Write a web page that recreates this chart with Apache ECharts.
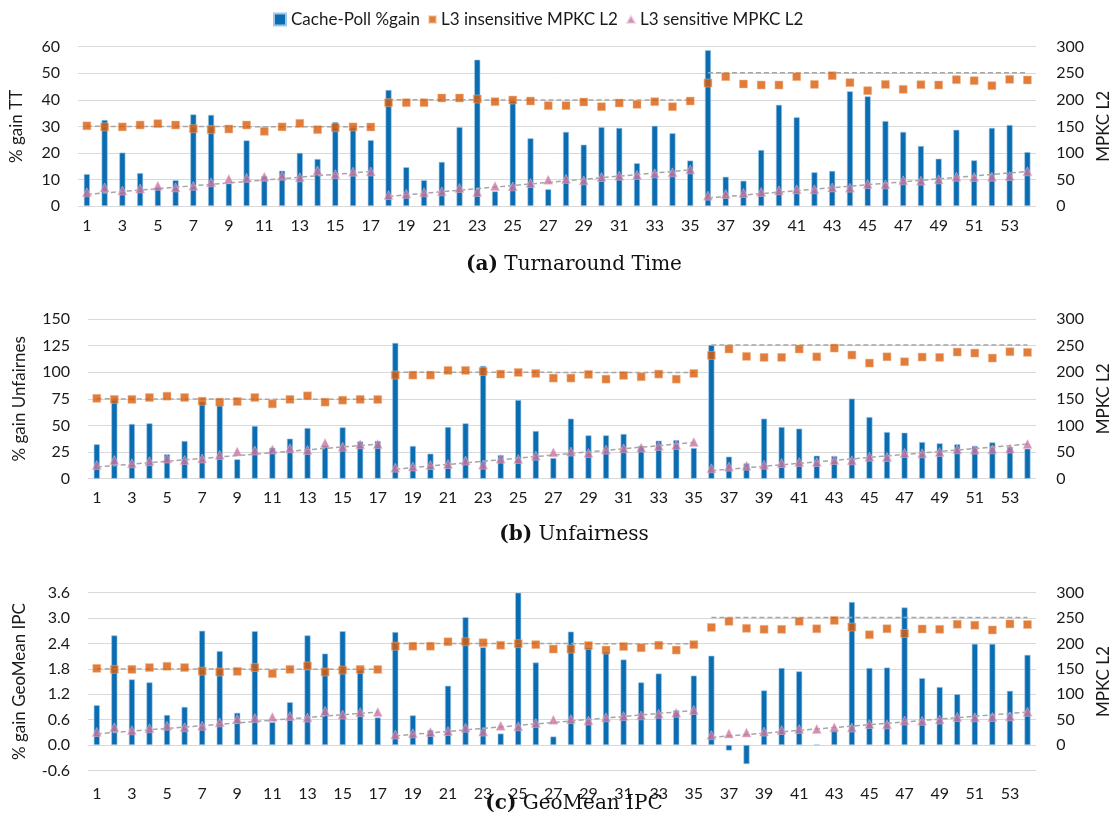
<!DOCTYPE html>
<html>
<head>
<meta charset="utf-8">
<script src="https://cdn.jsdelivr.net/npm/echarts@6/dist/echarts.min.js"></script>
<style>
html, body { margin: 0; padding: 0; background: #fff; }
#chart { width: 1120px; height: 821px; }
</style>
</head>
<body>
<div id="chart"></div>
<script>
// benchmark ids 1..54
const cats = []
for (let i = 1; i <= 54; i++) cats.push(String(i))

// Cache-Poll %gain, one array per panel
const gainTT = [12, 32.4, 20.1, 12.4, 7, 9.7, 34.5, 34.3, 8.5, 24.7, 11.3, 13.3, 20, 17.7, 31.6, 29.5, 24.8,
    43.7, 14.6, 9.7, 16.6, 29.7, 55.1, 5.5, 39.6, 25.5, 6.3, 27.9, 23.1, 29.7, 29.4, 16.1, 30.2, 27.4, 17.1,
    58.7, 11, 9.5, 21.1, 38.1, 33.4, 12.7, 13.2, 43.2, 41.3, 32, 27.9, 22.6, 17.8, 28.7, 17.2, 29.4, 30.5, 20.3]
const gainUnf = [32.3, 74, 51.4, 52, 22.9, 35.4, 72.3, 68.9, 18.2, 49.5, 29.1, 37.6, 47.6, 31, 48.2, 35, 35.4,
    127.5, 30.7, 23.5, 48.5, 52, 105.9, 22.2, 73.9, 44.8, 19.4, 56.4, 40.7, 40.7, 42, 30.7, 35.7, 36.3, 28.8,
    125.6, 20.7, 14.4, 56.4, 48.5, 47, 21.6, 21.3, 75.2, 57.9, 43.8, 43.2, 34.4, 33.2, 32.3, 30.7, 34.1, 30, 28.2]
const gainIPC = [0.94, 2.59, 1.55, 1.48, 0.71, 0.9, 2.7, 2.22, 0.76, 2.69, 0.54, 1.01, 2.59, 2.16, 2.69, 1.77, 0.65,
    2.67, 0.7, 0.35, 1.4, 3.02, 2.31, 0.27, 3.6, 1.95, 0.2, 2.68, 2.3, 2.2, 2.02, 1.48, 1.69, 0.82, 1.64,
    2.11, -0.13, -0.45, 1.29, 1.82, 1.74, 0.01, 0.35, 3.38, 1.82, 1.83, 3.25, 1.58, 1.37, 1.2, 2.39, 2.39, 1.28, 2.13]

// MPKC L2 (right axis), same in all panels
const mpkcIns = [151, 149, 149, 152.5, 155, 152.5, 145.6, 143.8, 145, 152.5, 140.6, 149, 155.7, 143.8, 147.5, 149, 148.8,
    194.6, 194.6, 194.6, 203.4, 203.4, 201.5, 196.5, 199.6, 197.7, 189, 189, 195.9, 187, 194, 191.5, 196.5, 187, 197.7,
    231.6, 243.6, 229.8, 227.9, 227.9, 243.6, 229, 245.4, 232.3, 217.2, 229, 219.7, 228.5, 227.9, 237.9, 236, 226.6, 238.5, 237.3]
const mpkcSen = [25.7, 35, 29, 33, 38, 35, 38, 44.6, 51, 53, 55, 57, 54, 67, 60, 64.7, 65,
    20.7, 23, 25.7, 27.6, 34, 26.4, 37.7, 37, 43.3, 49.6, 51, 48.3, 54.6, 57, 58.4, 61.5, 63.4, 69,
    19.5, 22.6, 24.5, 26.4, 29.5, 31.4, 31.4, 35, 34.5, 41.4, 40.8, 48.3, 47.7, 50.2, 55.2, 54.6, 55.2, 56.5, 65.3]

// trend lines: [from, to, valueFrom, valueTo]
const trendIns = [[1, 17, 150, 149], [18, 35, 200, 199.5], [36, 54, 251, 251]]
const trendSen = [[1, 17, 22, 65], [18, 35, 18, 68], [36, 54, 15, 65]]

// panel setup
const gains = [gainTT, gainUnf, gainIPC]
const leftNames = ['% gain TT', '% gain Unfairnes', '% gain GeoMean IPC']
const leftRanges = [[0, 60, 10], [0, 150, 25], [-0.6, 3.6, 0.6]]
const rightRanges = [[0, 300, 50], [0, 300, 50], [-50, 300, 50]]
const captions = ['Turnaround Time', 'Unfairness', 'GeoMean IPC']
const letters = ['(a)', '(b)', '(c)']

const FONT = 'Lato'
const TXT = '#1a1a1a'

const grids = [
    { left: 75, right: 75, top: 46.7, height: 159.3 },
    { left: 88, right: 71, top: 319, height: 159.7 },
    { left: 88, right: 75, top: 592.7, height: 177.7 }
]
const leftGap = [53, 60, 60]
const rightGap = [56, 58, 58]
const labelMargin = [12, 11, 15]
const captionY = [262, 532, 801]

const xAxis = []
const yAxis = []
const series = []

grids.forEach((g, p) => {
    xAxis.push({
        type: 'category',
        gridIndex: p,
        data: cats,
        axisLine: { show: false, onZero: true, onZeroAxisIndex: p * 2 },
        axisTick: { show: false },
        axisLabel: { interval: 1, color: TXT, fontFamily: FONT, fontSize: 16, margin: labelMargin[p] },
        splitLine: { show: false }
    })
    const lr = leftRanges[p]
    yAxis.push({
        type: 'value',
        gridIndex: p,
        min: lr[0],
        max: lr[1],
        interval: lr[2],
        name: leftNames[p],
        nameLocation: 'middle',
        nameGap: leftGap[p],
        nameTextStyle: { color: TXT, fontFamily: FONT, fontSize: 17 },
        axisLine: { show: false },
        axisTick: { show: false },
        axisLabel: {
            color: TXT, fontFamily: FONT, fontSize: 16, margin: 18,
            formatter: v => p === 2 ? v.toFixed(1) : String(v)
        },
        splitLine: { lineStyle: { color: '#d9d9d9', width: 1 } }
    })
    const rr = rightRanges[p]
    yAxis.push({
        type: 'value',
        gridIndex: p,
        position: 'right',
        min: rr[0],
        max: rr[1],
        interval: rr[2],
        name: 'MPKC L2',
        nameLocation: 'middle',
        nameGap: rightGap[p],
        nameTextStyle: { color: TXT, fontFamily: FONT, fontSize: 17 },
        axisLine: { show: false },
        axisTick: { show: false },
        axisLabel: {
            color: TXT, fontFamily: FONT, fontSize: 16, margin: 20,
            formatter: v => v < 0 ? '' : String(v)
        },
        splitLine: { show: false }
    })

    series.push({
        name: 'Cache-Poll %gain',
        type: 'bar',
        xAxisIndex: p,
        yAxisIndex: p * 2,
        barWidth: 6,
        data: gains[p],
        itemStyle: { color: '#0b6db1', borderColor: '#9fc8e8', borderWidth: 0.6 },
        z: 2
    })
    // trend lines (behind the markers)
    trendIns.concat(trendSen).forEach(t => {
        series.push({
            type: 'line', xAxisIndex: p, yAxisIndex: p * 2 + 1,
            data: [[t[0] - 1, t[2]], [t[1] - 1, t[3]]],
            symbol: 'none', silent: true,
            lineStyle: { color: '#a6a6a6', width: 1.5, type: [5, 3] }, z: 3
        })
    })
    series.push({
        name: 'L3 insensitive MPKC L2',
        type: 'scatter',
        xAxisIndex: p,
        yAxisIndex: p * 2 + 1,
        symbol: 'rect',
        symbolSize: 8,
        data: mpkcIns,
        itemStyle: { color: '#d95d0b', borderColor: 'rgba(245,185,140,0.6)', borderWidth: 1 },
        z: 4
    })
    series.push({
        name: 'L3 sensitive MPKC L2',
        type: 'scatter',
        xAxisIndex: p,
        yAxisIndex: p * 2 + 1,
        symbol: 'triangle',
        symbolSize: 9,
        data: mpkcSen,
        itemStyle: { color: '#c8769f', borderColor: 'rgba(235,190,215,0.6)', borderWidth: 1 },
        z: 4
    })
})

const titles = captions.map((c, i) => ({
    text: '{b|' + letters[i] + '} ' + c,
    left: 569,
    top: captionY[i] - 12,
    textAlign: 'center',
    textStyle: {
        fontFamily: 'DejaVu Serif', fontSize: 20, fontWeight: 'normal', color: '#111',
        rich: { b: { fontFamily: 'DejaVu Serif', fontSize: 20, fontWeight: 'bold', color: '#111' } }
    }
}))

const legendText = { color: TXT, fontFamily: FONT, fontSize: 17 }
const option = {
    animation: false,
    backgroundColor: '#fff',
    title: titles,
    legend: [
        { data: ['Cache-Poll %gain'], left: 268, top: 6, icon: 'rect', itemWidth: 12, itemHeight: 12, itemGap: 4, textStyle: legendText },
        { data: ['L3 insensitive MPKC L2'], left: 423, top: 6, icon: 'rect', itemWidth: 7, itemHeight: 7, textStyle: legendText },
        { data: ['L3 sensitive MPKC L2'], left: 621, top: 6, icon: 'triangle', itemWidth: 8, itemHeight: 7, textStyle: legendText }
    ],
    grid: grids,
    xAxis: xAxis,
    yAxis: yAxis,
    series: series
}

const myChart = echarts.init(document.getElementById('chart'), null, { renderer: 'canvas' })
myChart.setOption(option)
</script>
</body>
</html>
